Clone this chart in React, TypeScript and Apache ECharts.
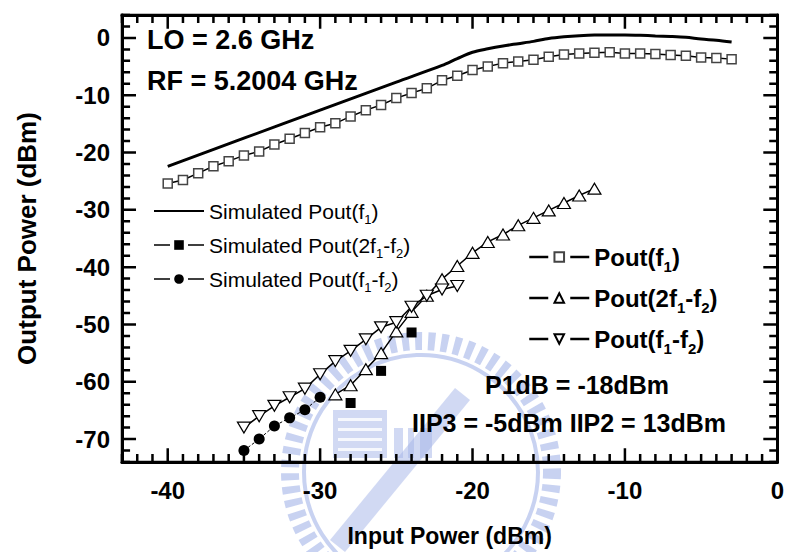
import React, { useEffect, useRef } from 'react';
import * as echarts from 'echarts';

const FONT = '"Liberation Sans", Arial, Helvetica, sans-serif';

// Tick values
const xMajorTicks = [-40, -30, -20, -10, 0];
const xMinorTicks = [-43, -42, -41, -39, -38, -37, -36, -35, -34, -33, -32, -31, -29, -28, -27, -26, -25, -24, -23, -22, -21, -19, -18, -17, -16, -15, -14, -13, -12, -11, -9, -8, -7, -6, -5, -4, -3, -2, -1];
const yMajorTicks = [-70, -60, -50, -40, -30, -20, -10, 0];
const yMinorTicks = [-74, -72, -68, -66, -64, -62, -58, -56, -54, -52, -48, -46, -44, -42, -38, -36, -34, -32, -28, -26, -24, -22, -18, -16, -14, -12, -8, -6, -4, -2, 2, 4];

// Measured Pout(f1)
const measF1X = [-40, -39, -38, -37, -36, -35, -34, -33, -32, -31, -30, -29, -28, -27, -26, -25, -24, -23, -22, -21, -20, -19, -18, -17, -16, -15, -14, -13, -12, -11, -10, -9, -8, -7, -6, -5, -4, -3];
const measF1Y = [-25.4, -24.8, -23.6, -22.4, -21.5, -20.5, -19.8, -18.6, -17.6, -16.6, -15.6, -14.9, -13.7, -12.6, -11.7, -10.5, -9.6, -8.8, -7.4, -6.6, -5.6, -5.0, -4.4, -4.1, -3.8, -3.3, -2.9, -2.7, -2.6, -2.5, -2.7, -2.7, -2.8, -3.0, -3.1, -3.4, -3.5, -3.7];

// Simulated Pout(f1)
const simF1X = [-40, -35, -30, -25, -22, -21, -20, -19, -18, -17, -16, -15, -14, -13, -12, -11, -10, -9, -8, -7, -6, -5, -4, -3];
const simF1Y = [-22.4, -17.5, -12.6, -7.7, -4.8, -3.6, -2.5, -1.9, -1.4, -1.0, -0.6, -0.1, 0.2, 0.4, 0.5, 0.5, 0.5, 0.45, 0.35, 0.25, 0.1, -0.2, -0.4, -0.7];

// Measured Pout(2f1-f2)
const meas2f1f2X = [-29, -28, -27, -26, -25, -24, -23, -22, -21, -20, -19, -18, -17, -16, -15, -14, -13, -12];
const meas2f1f2Y = [-62.2, -60.6, -57.8, -55.0, -51.2, -47.8, -45.0, -42.1, -39.8, -37.5, -35.6, -34.3, -32.7, -31.4, -30.1, -28.8, -27.5, -26.3];

// Measured Pout(f1-f2)
const measf1f2X = [-35, -34, -33, -32, -31, -30, -29, -28, -27, -26, -25, -24, -23, -22, -21];
const measf1f2Y = [-68.0, -66.0, -64.2, -62.7, -61.2, -58.7, -56.4, -54.6, -52.6, -50.5, -49.6, -46.9, -45.0, -43.9, -43.3];

// Simulated Pout(2f1-f2)
const sim2f1f2X = [-28, -26, -24];
const sim2f1f2Y = [-63.7, -58.1, -51.4];

// Simulated Pout(f1-f2)
const simf1f2X = [-35, -34, -33, -32, -31, -30];
const simf1f2Y = [-72.0, -70.0, -67.7, -66.3, -64.9, -62.7];

const X_MIN = -43;
const X_MAX = 0;
const Y_MIN = -74;
const Y_MAX = 4;

// Tick lengths in axis units (major / minor)
const X_TICK_LEN = { major: 2.4, minor: 1.4 }; // ticks on bottom/top, measured along y
const Y_TICK_LEN = { major: 0.92, minor: 0.53 }; // ticks on left/right, measured along x

const zip = (xs: number[], ys: number[]) => xs.map((x, i) => [x, ys[i]]);

const N_SIM_F1 = 'Simulated Pout(f1)';
const N_SIM_2F = 'Simulated Pout(2f1-f2)';
const N_SIM_F = 'Simulated Pout(f1-f2)';
const N_M_F1 = 'Pout(f1)';
const N_M_2F = 'Pout(2f1-f2)';
const N_M_F = 'Pout(f1-f2)';

const richLabel: Record<string, string> = {
  [N_SIM_F1]: '{a|Simulated Pout(f}{s|1}{a|)}',
  [N_SIM_2F]: '{a|Simulated Pout(2f}{s|1}{a|-f}{s|2}{a|)}',
  [N_SIM_F]: '{a|Simulated Pout(f}{s|1}{a|-f}{s|2}{a|)}',
  [N_M_F1]: '{a|Pout(f}{s|1}{a|)}',
  [N_M_2F]: '{a|Pout(2f}{s|1}{a|-f}{s|2}{a|)}',
  [N_M_F]: '{a|Pout(f}{s|1}{a|-f}{s|2}{a|)}',
};

const WM = '#a3b4e8';

// A comb-shaped line series along one side of the frame: one tooth per tick value
function tickComb(side: 'bottom' | 'top' | 'left' | 'right') {
  const isX = side === 'bottom' || side === 'top';
  const major = isX ? xMajorTicks : yMajorTicks;
  const all = (isX ? [...xMinorTicks, ...xMajorTicks] : [...yMinorTicks, ...yMajorTicks]).sort((a, b) => a - b);
  const pts: number[][] = [];
  all.forEach((v) => {
    const isMajor = major.indexOf(v) >= 0;
    if (side === 'bottom') {
      const len = isMajor ? X_TICK_LEN.major : X_TICK_LEN.minor;
      pts.push([v, Y_MIN], [v, Y_MIN + len], [v, Y_MIN]);
    } else if (side === 'top') {
      const len = isMajor ? X_TICK_LEN.major : X_TICK_LEN.minor;
      pts.push([v, Y_MAX], [v, Y_MAX - len], [v, Y_MAX]);
    } else if (side === 'left') {
      const len = isMajor ? Y_TICK_LEN.major : Y_TICK_LEN.minor;
      pts.push([X_MIN, v], [X_MIN + len, v], [X_MIN, v]);
    } else {
      const len = isMajor ? Y_TICK_LEN.major : Y_TICK_LEN.minor;
      pts.push([X_MAX, v], [X_MAX - len, v], [X_MAX, v]);
    }
  });
  return {
    type: 'line',
    data: pts,
    symbol: 'none',
    silent: true,
    clip: false,
    z: 7,
    color: '#000',
    lineStyle: { color: '#000', width: 2.5, cap: 'butt', join: 'miter' },
    emphasis: { disabled: true },
    tooltip: { show: false },
  };
}

function xAxisDef(position: 'bottom' | 'top', main: boolean) {
  return {
    type: 'value',
    position,
    min: X_MIN,
    max: X_MAX,
    axisLine: { show: true, onZero: false, lineStyle: { color: '#000', width: 3 } },
    axisTick: { show: false },
    axisLabel: main
      ? { show: true, customValues: xMajorTicks, color: '#000', fontSize: 24, fontWeight: 'bold', fontFamily: FONT, margin: 16 }
      : { show: false },
    splitLine: { show: false },
    ...(main
      ? {
          name: 'Input Power (dBm)',
          nameLocation: 'middle',
          nameGap: 62,
          nameTextStyle: { color: '#000', fontSize: 23, fontWeight: 'bold', fontFamily: FONT },
        }
      : {}),
  };
}

function yAxisDef(position: 'left' | 'right', main: boolean) {
  return {
    type: 'value',
    position,
    min: Y_MIN,
    max: Y_MAX,
    axisLine: { show: true, onZero: false, lineStyle: { color: '#000', width: 3 } },
    axisTick: { show: false },
    axisLabel: main
      ? { show: true, customValues: yMajorTicks, color: '#000', fontSize: 24, fontWeight: 'bold', fontFamily: FONT, margin: 12 }
      : { show: false },
    splitLine: { show: false },
    ...(main
      ? {
          name: 'Output Power (dBm)',
          nameLocation: 'middle',
          nameGap: 82,
          nameTextStyle: { color: '#000', fontSize: 26, fontWeight: 'bold', fontFamily: FONT },
        }
      : {}),
  };
}

export default function App() {
  const ref = useRef<HTMLDivElement>(null);
  useEffect(() => {
    if (!ref.current) return;
    const chart = echarts.init(ref.current, undefined, { renderer: 'svg' });
    const option = {
      animation: false,
      backgroundColor: '#fff',
      grid: { left: 122, right: 9, top: 15, bottom: 89, containLabel: false },
      xAxis: [xAxisDef('bottom', true), xAxisDef('top', false)],
      yAxis: [yAxisDef('left', true), yAxisDef('right', false)],
      legend: [
        {
          orient: 'vertical',
          left: 153,
          top: 196,
          padding: 0,
          itemWidth: 50,
          itemHeight: 12,
          itemGap: 4,
          selectedMode: false,
          data: [
            { name: N_SIM_F1, itemStyle: { opacity: 0 } },
            { name: N_SIM_2F, lineStyle: { width: 1.5, color: '#000', type: [16, 18] } },
            { name: N_SIM_F, lineStyle: { width: 1.5, color: '#000', type: [16, 18] } },
          ],
          formatter: (name: string) => richLabel[name],
          textStyle: {
            color: '#000',
            rich: {
              a: { fontSize: 21, fontFamily: FONT, color: '#000', lineHeight: 24 },
              s: { fontSize: 13, fontFamily: FONT, color: '#000', lineHeight: 24, padding: [17, 0, 0, 0] },
            },
          },
        },
        {
          orient: 'vertical',
          left: 528,
          top: 240,
          padding: 0,
          itemWidth: 60,
          itemHeight: 12,
          itemGap: 7,
          selectedMode: false,
          lineStyle: { width: 2.5, color: '#000', type: [19, 22] },
          data: [N_M_F1, N_M_2F, N_M_F],
          formatter: (name: string) => richLabel[name],
          textStyle: {
            color: '#000',
            rich: {
              a: { fontSize: 24, fontWeight: 'bold', fontFamily: FONT, color: '#000', lineHeight: 30 },
              s: { fontSize: 15, fontWeight: 'bold', fontFamily: FONT, color: '#000', lineHeight: 30, padding: [19, 0, 0, 0] },
            },
          },
        },
      ],
      graphic: [
        {
          type: 'group',
          z: -10,
          silent: true,
          children: [
            { type: 'circle', shape: { cx: 421, cy: 472, r: 131 }, style: { fill: 'none', stroke: WM, lineWidth: 18, lineDash: [7, 6], opacity: 0.6 } },
            { type: 'circle', shape: { cx: 421, cy: 472, r: 117 }, style: { fill: 'none', stroke: WM, lineWidth: 4, opacity: 0.6 } },
            { type: 'rect', shape: { x: 333, y: 410, width: 54, height: 48 }, style: { fill: WM, opacity: 0.5 } },
            { type: 'rect', shape: { x: 338, y: 418, width: 44, height: 3 }, style: { fill: '#fff', opacity: 0.8 } },
            { type: 'rect', shape: { x: 338, y: 428, width: 44, height: 3 }, style: { fill: '#fff', opacity: 0.8 } },
            { type: 'rect', shape: { x: 338, y: 438, width: 44, height: 3 }, style: { fill: '#fff', opacity: 0.8 } },
            { type: 'rect', shape: { x: 338, y: 448, width: 44, height: 3 }, style: { fill: '#fff', opacity: 0.8 } },
            { type: 'rect', shape: { x: 394, y: 428, width: 9, height: 30 }, style: { fill: WM, opacity: 0.5 } },
            { type: 'rect', shape: { x: 408, y: 428, width: 6, height: 30 }, style: { fill: WM, opacity: 0.5 } },
            { type: 'rect', shape: { x: 420, y: 428, width: 12, height: 30 }, style: { fill: WM, opacity: 0.5 } },
            { type: 'polygon', shape: { points: [[330, 540], [345, 552], [470, 400], [455, 388]] }, style: { fill: WM, opacity: 0.5 } },
          ],
        },
        { type: 'text', x: 147, y: 40, z: 10, style: { text: 'LO = 2.6 GHz', fill: '#000', fontSize: 27, fontWeight: 'bold', fontFamily: FONT, verticalAlign: 'middle' } },
        { type: 'text', x: 147, y: 81, z: 10, style: { text: 'RF = 5.2004 GHz', fill: '#000', fontSize: 27, fontWeight: 'bold', fontFamily: FONT, verticalAlign: 'middle' } },
        { type: 'text', x: 485, y: 385, z: 10, style: { text: 'P1dB = -18dBm', fill: '#000', fontSize: 25, fontWeight: 'bold', fontFamily: FONT, verticalAlign: 'middle' } },
        { type: 'text', x: 412, y: 423, z: 10, style: { text: 'IIP3 = -5dBm IIP2 = 13dBm', fill: '#000', fontSize: 25, fontWeight: 'bold', fontFamily: FONT, verticalAlign: 'middle' } },
      ],
      series: [
        { name: N_SIM_F1, type: 'line', data: zip(simF1X, simF1Y), smooth: 0.3, symbol: 'none', color: '#000', lineStyle: { color: '#000', width: 3 }, z: 3 },
        { name: N_M_F1, type: 'line', data: zip(measF1X, measF1Y), symbol: 'rect', symbolSize: 9, color: '#000', itemStyle: { color: '#fff', borderColor: '#444', borderWidth: 1.5 }, lineStyle: { color: '#000', width: 1.5 }, z: 4 },
        { name: N_M_2F, type: 'line', data: zip(meas2f1f2X, meas2f1f2Y), symbol: 'triangle', symbolSize: [13, 11], color: '#000', itemStyle: { color: '#fff', borderColor: '#000', borderWidth: 1.2 }, lineStyle: { color: '#000', width: 1.5 }, z: 4 },
        { name: N_M_F, type: 'line', data: zip(measf1f2X, measf1f2Y), symbol: 'triangle', symbolRotate: 180, symbolSize: [13, 11], color: '#000', itemStyle: { color: '#fff', borderColor: '#000', borderWidth: 1.2 }, lineStyle: { color: '#000', width: 1.5 }, z: 5 },
        { name: N_SIM_2F, type: 'line', data: zip(sim2f1f2X, sim2f1f2Y), symbol: 'rect', symbolSize: 10, color: '#000', itemStyle: { color: '#000' }, lineStyle: { color: '#000', width: 0 }, z: 6 },
        { name: N_SIM_F, type: 'line', data: zip(simf1f2X, simf1f2Y), symbol: 'circle', symbolSize: 11, color: '#000', itemStyle: { color: '#000' }, lineStyle: { color: '#000', width: 1, type: [3, 2] }, z: 6 },
        tickComb('bottom'),
        tickComb('top'),
        tickComb('left'),
        tickComb('right'),
      ],
    };
    chart.setOption(option as any);
    return () => chart.dispose();
  }, []);
  return <div ref={ref} style={{ position: 'fixed', left: 0, top: 0, width: 787, height: 552 }} />;
}
